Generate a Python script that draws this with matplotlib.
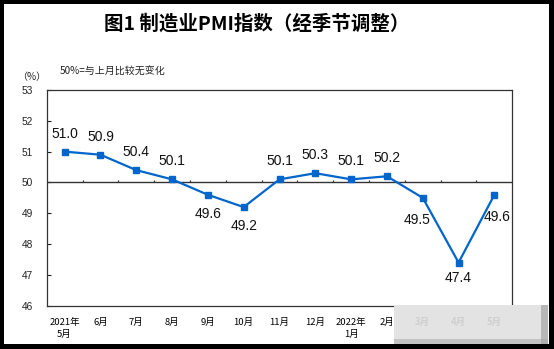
import matplotlib
matplotlib.use("Agg")
import matplotlib.pyplot as plt
from matplotlib.patches import Rectangle
from matplotlib.transforms import blended_transform_factory

plt.rcParams['font.family'] = ['Noto Sans CJK SC', 'DejaVu Sans']

months = ["2021年\n5月", "6月", "7月", "8月", "9月", "10月", "11月", "12月",
          "2022年\n1月", "2月", "3月", "4月", "5月"]
pmi = [51.0, 50.9, 50.4, 50.1, 49.6, 49.2, 50.1, 50.3, 50.1, 50.2, 49.5, 47.4, 49.6]
label_pos = ["above", "above", "above", "above", "below", "below", "above", "above",
             "above", "above", "belowleft", "below2", "belowright"]
yticks = [46, 47, 48, 49, 50, 51, 52, 53]

title = "图1 制造业PMI指数（经季节调整）"
note = "50%=与上月比较无变化"
unit = "（%）"

W, H = 554, 349
fig = plt.figure(figsize=(W / 100, H / 100), dpi=100, facecolor="black")

# white inner canvas
fig.patches.append(Rectangle((4 / W, 1 - 344 / H), 545 / W, 340 / H,
                             transform=fig.transFigure, facecolor="white",
                             edgecolor="none", zorder=-10))

ax = fig.add_axes([46.7 / W, 1 - 305.7 / H, (512.3 - 46.7) / W, (305.7 - 90) / H])
ax.set_facecolor("white")
x = list(range(len(pmi)))
color = "#0066CC"
ax.plot(x, pmi, color=color, lw=1.6, marker="s", ms=4.5, zorder=5, clip_on=False)
ax.axhline(50, color="#333333", lw=1.0, zorder=3)
# boundary ticks on 50-line
bounds = [i + 0.5 for i in range(len(pmi) - 1)]
ax.vlines(bounds, 50, 50.09, color="#333333", lw=0.9, zorder=3)

ax.set_xlim(-0.5, len(pmi) - 0.5)
ax.set_ylim(46, 53)
ax.set_yticks(yticks)
ax.set_yticklabels([str(v) for v in yticks], fontsize=7.3, family="Liberation Sans")
ax.tick_params(axis="y", direction="in", length=3, width=0.8, pad=10, colors="#222222")

ax.set_xticks(x[:10])
ax.set_xticklabels(months[:10], fontsize=6.8, linespacing=1.35)
ax.tick_params(axis="x", length=0, pad=9)

for s in ax.spines.values():
    s.set_color("#333333")
    s.set_linewidth(0.9)

offsets = {"above": (0, 18), "below": (0, -19), "below2": (0, -15),
           "belowleft": (-6, -22), "belowright": (3, -22)}
for xi, v, p in zip(x, pmi, label_pos):
    dx, dy = offsets[p]
    ax.annotate(f"{v:.1f}", (xi, v), xytext=(dx, dy), textcoords="offset pixels",
                ha="center", va="center", fontsize=10, family="Liberation Sans",
                color="#111111", zorder=6)

fig.text(257 / W, 1 - 24 / H, title, ha="center", va="center", fontsize=14,
         fontweight="bold", color="black")
fig.text(60 / W, 1 - 72 / H, note, ha="left", va="center", fontsize=7.2, color="#222222")
fig.text(17 / W, 1 - 77 / H, unit, ha="left", va="center", fontsize=7.2, color="#222222")

# blurred watermark box covering last labels
fig.patches.append(Rectangle((394 / W, 1 - 344 / H), 154 / W, 39 / H,
                             transform=fig.transFigure, facecolor="#e3e3e3",
                             edgecolor="none", zorder=10))
fig.patches.append(Rectangle((541 / W, 1 - 344 / H), 7 / W, 39 / H,
                             transform=fig.transFigure, facecolor="#9a9a9a",
                             edgecolor="none", zorder=11, alpha=0.6))
fig.patches.append(Rectangle((394 / W, 1 - 344 / H), 154 / W, 5 / H,
                             transform=fig.transFigure, facecolor="#a5a5a5",
                             edgecolor="none", zorder=11, alpha=0.5))
trans = blended_transform_factory(ax.transData, fig.transFigure)
for xi, lab in zip(x[10:], months[10:]):
    t = fig.text(0, 0, lab, transform=trans, fontsize=6.8, color="#cfcfcf", ha="center",
                 va="center", zorder=12, fontweight="bold")
    t.set_position((xi, 1 - 322 / H))

fig.savefig("out.png", dpi=100, facecolor="black")
